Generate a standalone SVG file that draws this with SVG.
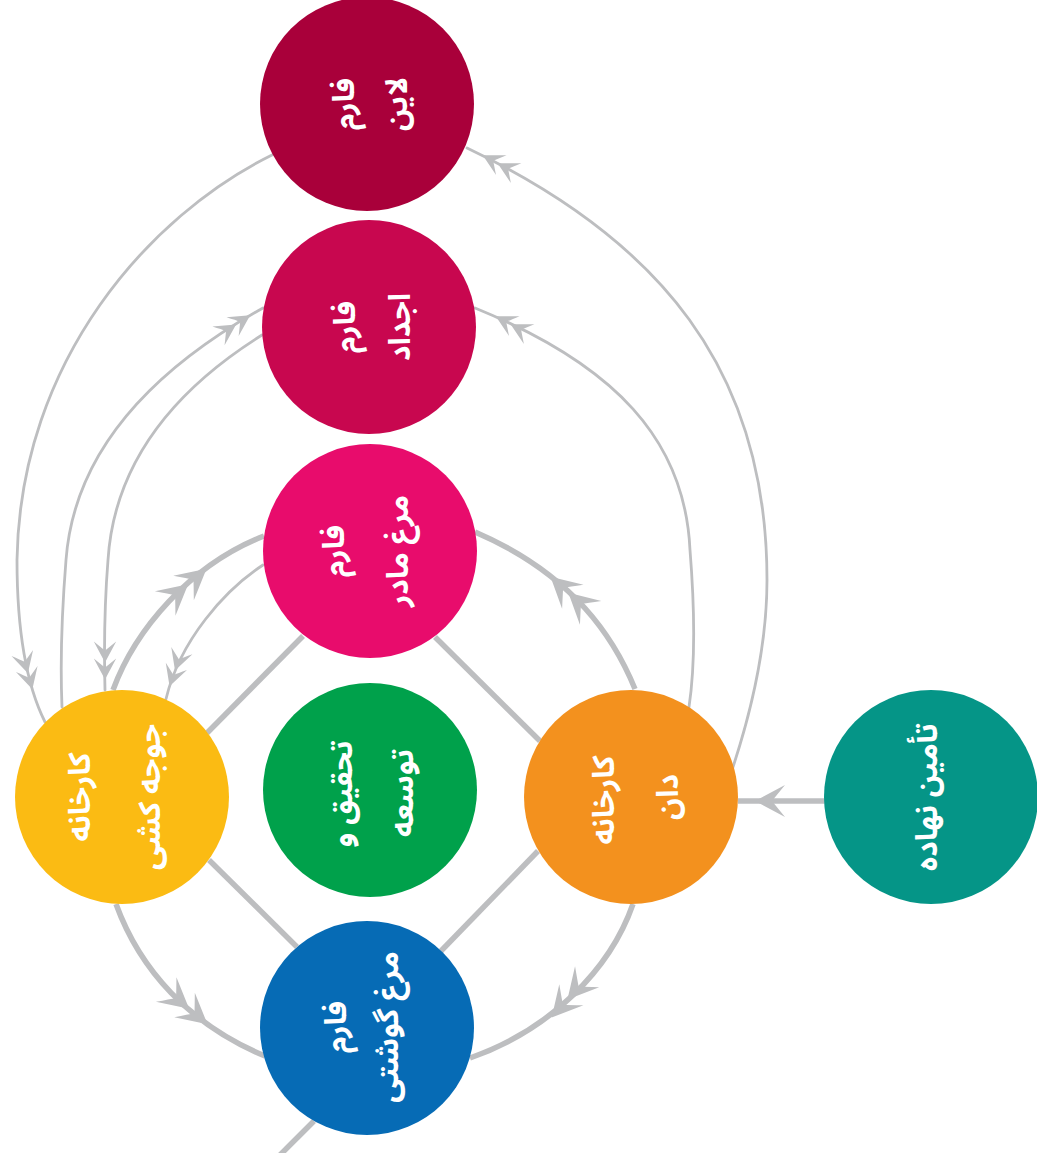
<svg xmlns="http://www.w3.org/2000/svg" xmlns:xlink="http://www.w3.org/1999/xlink" width="1037" height="1153" viewBox="0 0 1037 1153">
<style>
.thin{fill:none;stroke:#BDBEC0;stroke-width:2.8;stroke-linecap:round}
.thick{fill:none;stroke:#BDBEC0;stroke-width:5.5}
.ah{fill:#BDBEC0}
.lbl{font-family:"Noto Sans Arabic","DejaVu Sans",sans-serif;font-size:30px;font-weight:bold;fill:#FFFFFF;text-anchor:middle;dominant-baseline:central}
</style>
<defs>
<path id="ah" class="ah" d="M2,0 L-28,-16 Q-19,-5 -15,0 Q-19,5 -28,16 Z"/>
<g id="dah"><use xlink:href="#ah" href="#ah"/><use xlink:href="#ah" href="#ah" x="-24"/></g>
</defs>
<rect width="1037" height="1153" fill="#FFFFFF"/>
<g id="connectors">
<line class="thick" x1="303" y1="636" x2="207" y2="733"/>
<line class="thick" x1="435" y1="637" x2="540" y2="741"/>
<line class="thick" x1="209" y1="860" x2="297" y2="947"/>
<line class="thick" x1="538" y1="851" x2="441" y2="951"/>
<line class="thick" x1="314" y1="1121" x2="276" y2="1159"/>
<line class="thick" x1="738" y1="801" x2="826" y2="801"/>
<use href="#ah" xlink:href="#ah" transform="translate(757,801) rotate(180)"/>
<path class="thin" d="M272,155 C150,215 20,360 17,560 C17,620 24,680 45,722"/>
<use href="#dah" xlink:href="#dah" transform="translate(32,688) rotate(74.5) scale(0.7)"/>
<path class="thin" d="M263,308 C170,360 75,440 66,560 C62,610 60,660 62,707"/>
<use href="#dah" xlink:href="#dah" transform="translate(249,316) rotate(-33) scale(0.7)"/>
<path class="thin" d="M262,335 C190,380 115,450 108,560 C104,610 104,650 105,690"/>
<use href="#dah" xlink:href="#dah" transform="translate(105,678) rotate(90) scale(0.7)"/>
<path class="thick" d="M113,690 C135,630 190,565 264,536"/>
<use href="#dah" xlink:href="#dah" transform="translate(205,570) rotate(-40)"/>
<path class="thin" d="M263,565 C225,590 180,640 166,699"/>
<use href="#dah" xlink:href="#dah" transform="translate(170,685) rotate(109) scale(0.7)"/>
<path class="thin" d="M733,767 C755,700 767,640 767,580 C767,370 660,240 467,148"/>
<use href="#dah" xlink:href="#dah" transform="translate(484,156) rotate(208) scale(0.7)"/>
<path class="thin" d="M689,707 C696,660 694,600 690,550 C685,440 615,365 475,308"/>
<use href="#dah" xlink:href="#dah" transform="translate(497,317) rotate(208) scale(0.7)"/>
<path class="thick" d="M635,689 C615,640 575,575 475,532"/>
<use href="#dah" xlink:href="#dah" transform="translate(552,578) rotate(222)"/>
<path class="thick" d="M116,904 C140,970 190,1025 265,1056"/>
<use href="#dah" xlink:href="#dah" transform="translate(206,1023) rotate(40)"/>
<path class="thick" d="M633,904 C610,970 550,1030 470,1058"/>
<use href="#dah" xlink:href="#dah" transform="translate(553,1016) rotate(131)"/>
</g>
<g id="node-line">
<circle cx="367" cy="104" r="107" fill="#A9003A"/>
<text class="lbl" transform="translate(344,104) rotate(-90)">فارم</text>
<text class="lbl" transform="translate(397,104) rotate(-90)">لاین</text>
</g>
<g id="node-ajdad">
<circle cx="369" cy="327" r="107" fill="#C8074F"/>
<text class="lbl" transform="translate(345,327) rotate(-90)">فارم</text>
<text class="lbl" transform="translate(400,327) rotate(-90)">اجداد</text>
</g>
<g id="node-madar">
<circle cx="370" cy="551" r="107" fill="#E80C6C"/>
<text class="lbl" transform="translate(334,551) rotate(-90)">فارم</text>
<text class="lbl" transform="translate(398,551) rotate(-90)">مرغ مادر</text>
</g>
<g id="node-rnd">
<circle cx="370" cy="790" r="107" fill="#00A14B"/>
<text class="lbl" transform="translate(342,794) rotate(-90)">تحقیق و</text>
<text class="lbl" transform="translate(403,793) rotate(-90)">توسعه</text>
</g>
<g id="node-hatchery">
<circle cx="122" cy="797" r="107" fill="#FBBB13"/>
<text class="lbl" transform="translate(80,797) rotate(-90)">کارخانه</text>
<text class="lbl" transform="translate(150,797) rotate(-90)">جوجه کشی</text>
</g>
<g id="node-feed">
<circle cx="631" cy="797" r="107" fill="#F3911E"/>
<text class="lbl" transform="translate(604,800) rotate(-90)">کارخانه</text>
<text class="lbl" transform="translate(668,797) rotate(-90)">دان</text>
</g>
<g id="node-supply">
<circle cx="931" cy="797" r="107" fill="#059587"/>
<text class="lbl" transform="translate(927,797) rotate(-90)">تأمین نهاده</text>
</g>
<g id="node-broiler">
<circle cx="367" cy="1028" r="107" fill="#066BB5"/>
<text class="lbl" transform="translate(336,1027) rotate(-90)">فارم</text>
<text class="lbl" transform="translate(388,1027) rotate(-90)">مرغ گوشتی</text>
</g>
</svg>
